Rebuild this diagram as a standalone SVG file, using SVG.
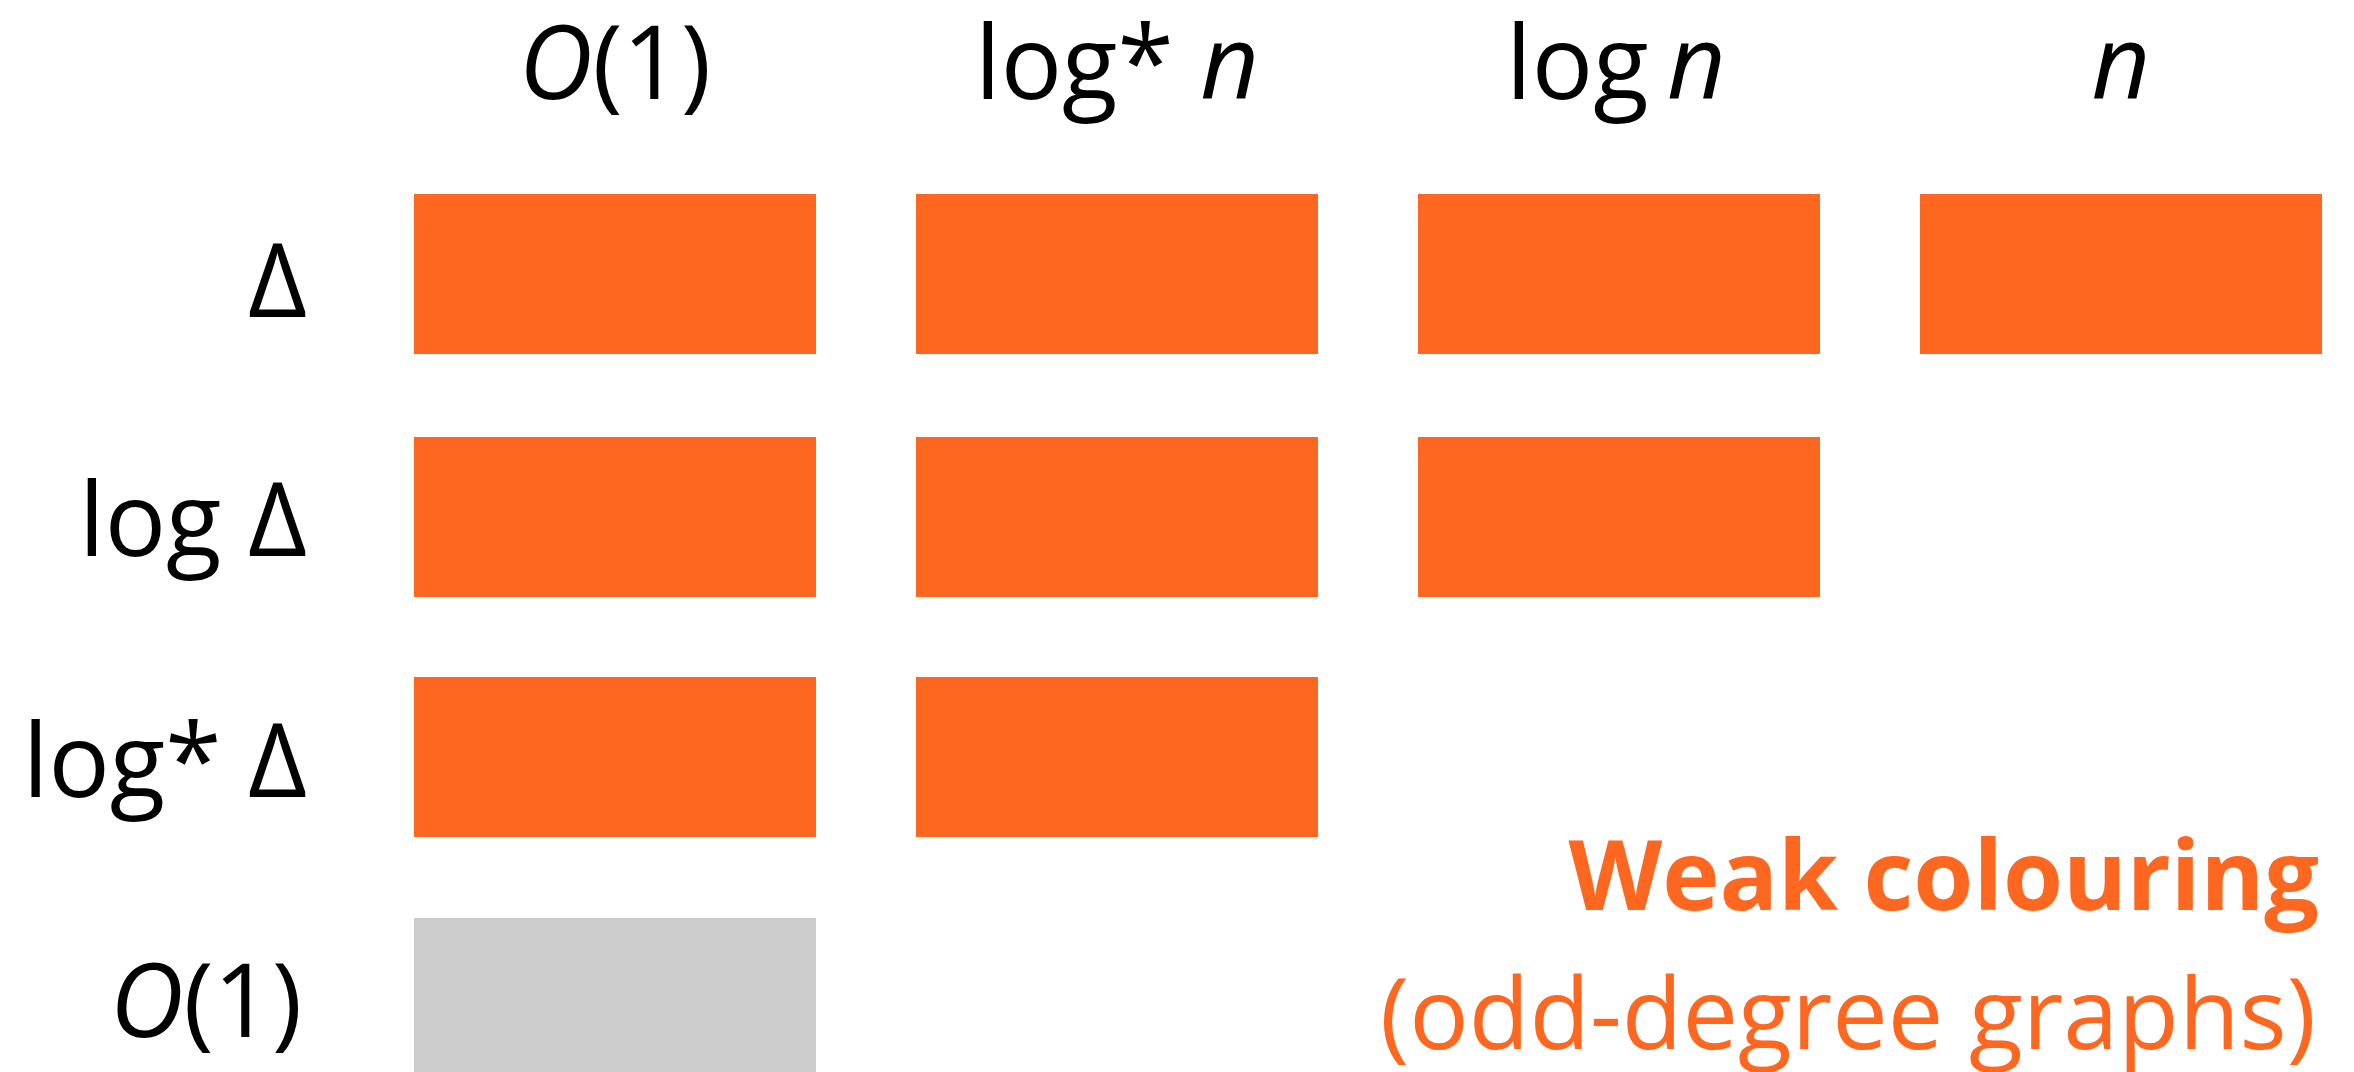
<svg xmlns="http://www.w3.org/2000/svg" width="2354" height="1072" viewBox="0 0 2354 1072">
  <style>
    .cell { fill: #FE6720; }
    .grey { fill: #CCCCCC; }
    .lbl { font-family: "Open Sans", "Noto Sans", sans-serif; font-size: 102px; fill: #000000; }
    .hdr { text-anchor: middle; }
    .row { text-anchor: end; }
    .it { font-style: italic; }
    .note { font-family: "Open Sans", "Noto Sans", sans-serif; fill: #FE6720; text-anchor: end; }
    .bold { font-weight: bold; font-size: 97px; }
    .sub { font-size: 99px; }
  </style>
  <rect width="2354" height="1072" fill="#FFFFFF"/>

  <g id="headers">
    <text class="lbl hdr" x="615" y="99"><tspan class="it">O</tspan>(1)</text>
    <text class="lbl hdr" x="1117" y="99">log* <tspan class="it">n</tspan></text>
    <text class="lbl hdr" x="1616" y="99" word-spacing="-8">log <tspan class="it">n</tspan></text>
    <text class="lbl hdr it" x="2121" y="99">n</text>
  </g>

  <g id="row-labels">
    <text class="lbl row" x="307" y="317">Δ</text>
    <text class="lbl row" x="307" y="556">log Δ</text>
    <text class="lbl row" x="307" y="797">log* Δ</text>
    <text class="lbl row" x="302" y="1037"><tspan class="it">O</tspan>(1)</text>
  </g>

  <g id="cell-r1-c1"><rect class="cell" x="414" y="194" width="402" height="160"/></g>
  <g id="cell-r1-c2"><rect class="cell" x="916" y="194" width="402" height="160"/></g>
  <g id="cell-r1-c3"><rect class="cell" x="1418" y="194" width="402" height="160"/></g>
  <g id="cell-r1-c4"><rect class="cell" x="1920" y="194" width="402" height="160"/></g>

  <g id="cell-r2-c1"><rect class="cell" x="414" y="437" width="402" height="160"/></g>
  <g id="cell-r2-c2"><rect class="cell" x="916" y="437" width="402" height="160"/></g>
  <g id="cell-r2-c3"><rect class="cell" x="1418" y="437" width="402" height="160"/></g>

  <g id="cell-r3-c1"><rect class="cell" x="414" y="677" width="402" height="160"/></g>
  <g id="cell-r3-c2"><rect class="cell" x="916" y="677" width="402" height="160"/></g>

  <g id="cell-r4-c1"><rect class="grey" x="414" y="918" width="402" height="160"/></g>

  <g id="connectors"></g>

  <g id="legend">
    <text class="note bold" x="2319" y="910">Weak colouring</text>
    <text class="note sub" x="2316" y="1049">(odd-degree graphs)</text>
  </g>
</svg>
